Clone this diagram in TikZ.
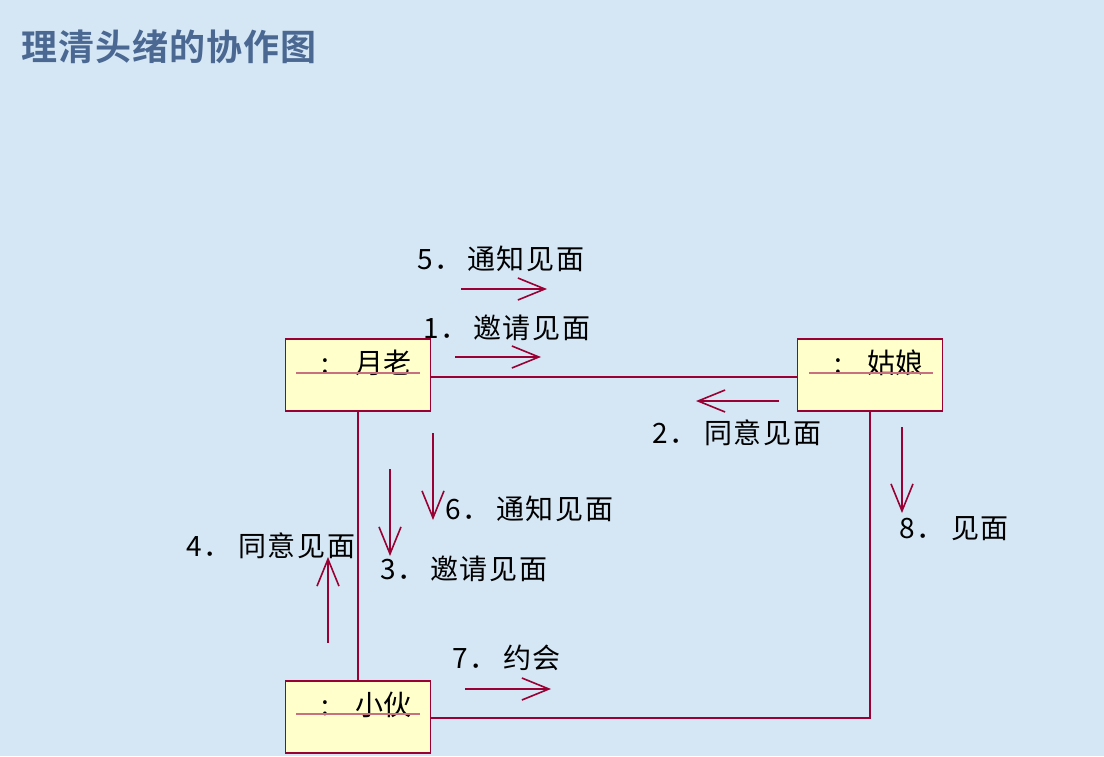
\documentclass[tikz,border=0pt]{standalone}
\usepackage{fontspec}
\setmainfont{Noto Sans CJK SC}
\newfontfamily\titlefont[LetterSpace=3]{Noto Sans CJK SC Bold}
\newfontfamily\labelfont[LetterSpace=6]{Noto Sans CJK SC}
\usetikzlibrary{arrows.meta,calc}
\definecolor{bgcol}{HTML}{D5E7F5}
\definecolor{boxfill}{HTML}{FFFFCC}
\definecolor{linecol}{HTML}{990033}
\definecolor{ulcol}{HTML}{C87080}
\definecolor{titlecol}{HTML}{4A6891}
\begin{document}
\begin{tikzpicture}[x=1pt,y=-1pt,
  obj/.style={draw=linecol, fill=boxfill, line width=1.2pt, minimum width=145pt, minimum height=72pt, inner sep=0pt},
  objtext/.style={anchor=base west, inner sep=0pt, font=\fontsize{28}{30}\selectfont},
  uline/.style={draw=ulcol, line width=1.4pt},
  link/.style={draw=linecol, line width=1.1pt},
  msg/.style={draw=linecol, line width=1.4pt, -{Straight Barb[length=27pt, width=22pt, line width=1.6pt]}},
  msglabel/.style={anchor=base west, inner sep=0pt, font=\labelfont\fontsize{28}{30}\selectfont}
]
\fill[bgcol] (0,0) rectangle (1104,756);
\useasboundingbox (0,0) rectangle (1104,756);

\node[anchor=base west, inner sep=0pt, text=titlecol, font=\titlefont\fontsize{36}{40}\selectfont] (title) at (21,60) {理清头绪的协作图};

% objects
\node[obj] (yl) at (358,375) {};
\node[obj] (gn) at (870,375) {};
\node[obj] (xh) at (358,717) {};

\node[objtext] (ylt) at (321,373) {\makebox[34pt][l]{:}月老};
\node[objtext] (gnt) at (834,373) {\makebox[33pt][l]{:}姑娘};
\node[objtext] (xht) at (321,715) {\makebox[34pt][l]{:}小伙};

\draw[uline] ($(yl.west)+(11,-2)$) -- ($(yl.east)+(-11,-2)$);
\draw[uline] ($(gn.west)+(12,-2)$) -- ($(gn.east)+(-10,-2)$);
\draw[uline] ($(xh.west)+(11,-3)$) -- ($(xh.east)+(-11,-3)$);

% links
\draw[link] ([yshift=-2pt]yl.east) -- ([yshift=-2pt]gn.west);
\draw[link] (yl.south) -- (xh.north);
\draw[link] (gn.south) |- ([yshift=-1pt]xh.east);

% message arrows
\coordinate (m5a) at (461,289); \coordinate (m5b) at (547,289);
\coordinate (m1a) at (455,357); \coordinate (m1b) at (541,357);
\coordinate (m2a) at (779,401); \coordinate (m2b) at (696,401);
\coordinate (m6a) at (433,433); \coordinate (m6b) at (433,520);
\coordinate (m3a) at (390,469); \coordinate (m3b) at (390,556);
\coordinate (m4a) at (328,643); \coordinate (m4b) at (328,557);
\coordinate (m8a) at (902,427); \coordinate (m8b) at (902,513);
\coordinate (m7a) at (465,689); \coordinate (m7b) at (551,689);
\foreach \m in {5,1,2,6,3,4,8,7} {\draw[msg] (m\m a) -- (m\m b);}

% labels
\node[msglabel] (l5) at (417,269) {\makebox[50pt][l]{5．}通知见面};
\node[msglabel] (l1) at (423,338) {\makebox[50pt][l]{1．}邀请见面};
\node[msglabel] (l2) at (652,443) {\makebox[52pt][l]{2．}同意见面};
\node[msglabel] (l8) at (899,538) {\makebox[52pt][l]{8．}见面};
\node[msglabel] (l6) at (445,519) {\makebox[51pt][l]{6．}通知见面};
\node[msglabel] (l3) at (380,579) {\makebox[50pt][l]{3．}邀请见面};
\node[msglabel] (l4) at (186,556) {\makebox[52pt][l]{4．}同意见面};
\node[msglabel] (l7) at (452,668) {\makebox[51pt][l]{7．}约会};
\end{tikzpicture}
\end{document}
